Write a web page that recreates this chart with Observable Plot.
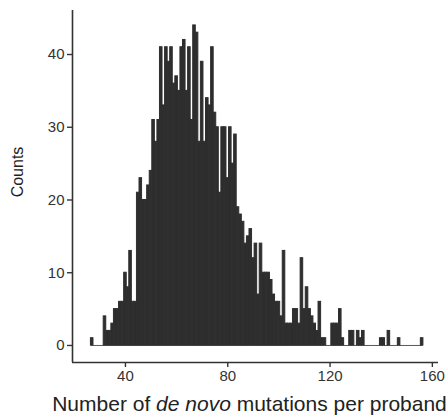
<!DOCTYPE html>
<html>
<head>
<meta charset="utf-8">
<script src="https://cdn.jsdelivr.net/npm/d3@7"></script>
<script src="https://cdn.jsdelivr.net/npm/@observablehq/plot@0.6"></script>
<style>
  html, body { margin: 0; padding: 0; background: #fff; }
  #chart { width: 448px; height: 420px; }
</style>
</head>
<body>
<div id="chart"></div>
<script>
// Number of de novo mutations per proband (bin value) and counts
const binStart = 27;
const counts = [
  // 27-36
  1, 0, 0, 0, 0, 4, 2, 2, 3, 5,
  // 37-46
  5, 6, 6, 10, 8, 13, 6, 6, 21, 23,
  // 47-56
  20, 20, 22, 24, 31, 28, 31, 41, 33, 41,
  // 57-66
  39, 41, 36, 37, 35, 41, 42, 35, 41, 31,
  // 67-76
  44, 43, 28, 39, 28, 34, 33, 41, 32, 30,
  // 77-86
  21, 30, 30, 23, 30, 25, 29, 19, 18, 17,
  // 87-96
  14, 15, 16, 12, 14, 7, 14, 10, 10, 10,
  // 97-106
  9, 7, 6, 6, 4, 13, 3, 3, 3, 5,
  // 107-116
  5, 3, 12, 5, 8, 5, 4, 3, 2, 6,
  // 117-126
  1, 1, 0, 0, 3, 3, 3, 5, 1, 0,
  // 127-136
  0, 2, 2, 0, 2, 1, 2, 0, 0, 0,
  // 137-146
  0, 0, 0, 1, 1, 0, 2, 0, 0, 0,
  // 147-156
  1, 0, 0, 0, 0, 0, 0, 0, 0, 1
];
const xTicks = [40, 80, 120, 160];
const yTicks = [0, 10, 20, 30, 40];
const xDomain = [19.3, 162.4];
const yDomain = [-2.34, 46.05];
const xLabelParts = ["Number of ", "de novo", " mutations per proband"];
const yLabel = "Counts";

const barColor = "#2e2e2e";
const axisColor = "#333";
const font = "'Liberation Sans', Arial, Helvetica, sans-serif";

const data = counts.map((n, i) => ({ x: binStart + i, n }));
const binEnd = binStart + counts.length - 1;

const svg = Plot.plot({
  width: 448,
  height: 420,
  marginLeft: 72,
  marginRight: 10,
  marginTop: 10,
  marginBottom: 58,
  style: { fontFamily: font, fontSize: "15px", color: "#333", background: "#fff", overflow: "visible" },
  x: { domain: xDomain, label: null },
  y: { domain: yDomain, label: null },
  marks: [
    Plot.ruleY([0], { x1: binStart - 0.5, x2: binEnd + 0.5, stroke: barColor, strokeWidth: 0.8 }),
    Plot.rect(data.filter(d => d.n > 0), {
      x1: d => d.x - 0.5, x2: d => d.x + 0.5, y1: 0, y2: "n",
      fill: barColor, stroke: barColor, strokeWidth: 1
    }),
    Plot.ruleX([xDomain[0]], { stroke: axisColor, strokeWidth: 1.6 }),
    Plot.ruleY([yDomain[0]], { stroke: axisColor, strokeWidth: 1.6 }),
    Plot.axisX({ ticks: xTicks, tickSize: 5, tickPadding: 3, label: null, stroke: axisColor, strokeWidth: 1.4, fontSize: 15 }),
    Plot.axisY({ ticks: yTicks, tickSize: 5, tickPadding: 3, label: null, stroke: axisColor, strokeWidth: 1.4, fontSize: 15 })
  ]
});

const s = d3.select(svg);
const xl = s.append("text")
  .attr("x", 249.5).attr("y", 411)
  .attr("text-anchor", "middle")
  .attr("font-family", font)
  .attr("font-size", 21)
  .attr("fill", "#222");
xl.append("tspan").text(xLabelParts[0]);
xl.append("tspan").attr("font-style", "italic").text(xLabelParts[1]);
xl.append("tspan").text(xLabelParts[2]);

s.append("text")
  .attr("transform", "translate(23,172) rotate(-90)")
  .attr("text-anchor", "middle")
  .attr("font-family", font)
  .attr("font-size", 16)
  .attr("fill", "#222")
  .text(yLabel);

document.getElementById("chart").appendChild(svg);
</script>
</body>
</html>
